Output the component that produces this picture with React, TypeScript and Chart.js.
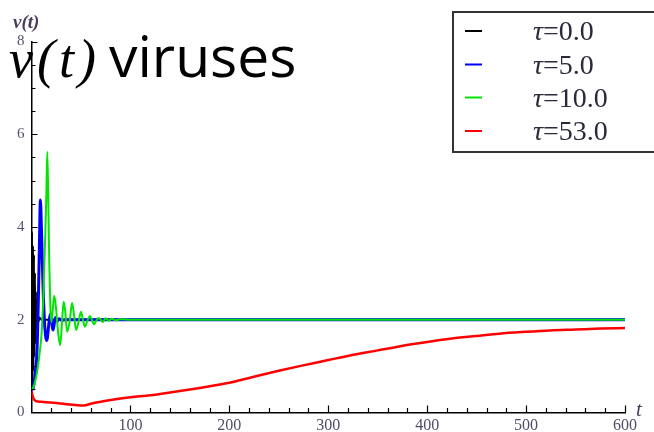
import React, { useEffect, useRef } from 'react';
import { Chart, registerables } from 'chart.js';

Chart.register(...registerables);

// ---- data ----
const TAUS = [0.0, 5.0, 10.0, 53.0];
const COLORS = ['rgb(0,0,0)', 'rgb(0,0,255)', 'rgb(0,230,0)', 'rgb(255,0,0)'];

const T_TAU0 = [0, 0.5, 1, 1.5, 2, 2.5, 3, 3.5, 4, 4.5, 5, 6, 7, 8, 10, 600];
const V_TAU0 = [0.5, 3.9, 0.6, 3.6, 0.9, 3.4, 1.2, 3.0, 1.5, 2.6, 1.8, 2.3, 1.95, 2.05, 2.0, 2.0];

const T_TAU5 = [0, 1, 2, 3, 4, 5, 6, 7, 8, 9, 10, 11, 12, 13, 14, 15, 16, 17, 18, 19, 20, 21, 22, 24, 26, 28, 30, 35, 600];
const V_TAU5 = [0.5, 0.5, 0.55, 0.7, 0.9, 1.1, 1.6, 2.5, 3.6, 4.58, 4.0, 3.2, 2.5, 2.0, 1.7, 1.55, 1.6, 1.8, 2.0, 2.12, 2.1, 1.85, 1.78, 2.05, 1.97, 2.02, 1.99, 2.0, 2.0];

const T_TAU10 = [0, 2, 4, 6, 8, 10, 12, 13, 14, 15, 16, 17, 18, 19, 20, 21, 23, 25, 27, 29, 31, 32.5, 34, 36, 38.5, 41, 43, 45, 47.5, 50, 52, 54, 56.5, 59, 61, 63, 65.5, 68, 70, 72, 75, 78, 81, 85, 90, 100, 600];
const V_TAU10 = [0.5, 0.55, 0.7, 0.92, 1.25, 1.65, 2.5, 3.2, 3.9, 4.7, 5.62, 4.5, 3.2, 2.3, 1.95, 2.1, 2.52, 2.2, 1.7, 1.45, 2.0, 2.39, 2.2, 1.74, 1.95, 2.36, 2.1, 1.78, 1.95, 2.17, 2.0, 1.85, 1.98, 2.08, 2.0, 1.9, 1.98, 2.04, 2.0, 1.95, 2.03, 1.98, 2.02, 1.99, 2.01, 2.0, 2.0];

const T_TAU53 = [0, 2, 4, 10, 22, 35, 45, 53, 60, 80, 100, 120, 140, 170, 200, 221, 250, 271, 300, 322, 350, 373, 400, 423, 450, 473, 500, 524, 550, 575, 600];
const V_TAU53 = [0.45, 0.3, 0.25, 0.23, 0.21, 0.18, 0.16, 0.15, 0.19, 0.27, 0.33, 0.37, 0.43, 0.53, 0.64, 0.75, 0.9, 1.0, 1.13, 1.23, 1.34, 1.43, 1.52, 1.59, 1.65, 1.7, 1.74, 1.77, 1.79, 1.81, 1.82];

const SERIES_T = [T_TAU0, T_TAU5, T_TAU10, T_TAU53];
const SERIES_V = [V_TAU0, V_TAU5, V_TAU10, V_TAU53];

const X_TICKS = [0, 100, 200, 300, 400, 500, 600];
const Y_TICKS = [0, 2, 4, 6, 8];
const X_MINOR_STEP = 20;
const Y_MINOR_STEP = 0.5;

const TITLE_MATH = 'v(t)';
const TITLE_WORD = 'viruses';
const Y_LABEL = 'v(t)';
const X_LABEL = 't';

const decorPlugin = {
  id: 'decor',
  afterDraw(chart: any) {
    const ctx = chart.ctx as CanvasRenderingContext2D;
    const xs = chart.scales.x;
    const ys = chart.scales.y;
    const x0 = xs.getPixelForValue(0);
    const y0 = ys.getPixelForValue(0);
    ctx.save();
    // inward tick marks
    ctx.strokeStyle = '#000';
    ctx.lineWidth = 1.2;
    ctx.beginPath();
    for (let v = X_MINOR_STEP; v <= xs.max + 1e-9; v += X_MINOR_STEP) {
      const px = Math.round(xs.getPixelForValue(v)) + 0.5;
      const len = X_TICKS.includes(v) ? 7 : 4.5;
      ctx.moveTo(px, y0);
      ctx.lineTo(px, y0 - len);
    }
    for (let v = Y_MINOR_STEP; v <= ys.max + 1e-9; v += Y_MINOR_STEP) {
      const py = Math.round(ys.getPixelForValue(v)) + 0.5;
      const len = Y_TICKS.includes(v) ? 6 : 4;
      ctx.moveTo(x0, py);
      ctx.lineTo(x0 + len, py);
    }
    ctx.stroke();

    // axis labels
    ctx.fillStyle = '#4b3b5b';
    ctx.textAlign = 'left';
    ctx.textBaseline = 'alphabetic';
    ctx.font = 'bold italic 19px "Liberation Serif"';
    ctx.fillText(Y_LABEL, 13, 28);
    ctx.font = 'italic 21px "Liberation Serif"';
    ctx.fillText(X_LABEL, 636, 416);

    // legend box
    ctx.lineWidth = 2;
    ctx.strokeStyle = '#333';
    ctx.beginPath();
    ctx.moveTo(700, 12);
    ctx.lineTo(453, 12);
    ctx.lineTo(453, 152);
    ctx.lineTo(700, 152);
    ctx.stroke();
    const rowBase = [40, 73.5, 106.5, 140];
    chart.data.datasets.forEach((ds: any, i: number) => {
      const by = rowBase[i];
      ctx.strokeStyle = ds.borderColor;
      ctx.lineWidth = 2;
      ctx.beginPath();
      ctx.moveTo(465, by - 9);
      ctx.lineTo(482, by - 9);
      ctx.stroke();
      const label: string = ds.label;
      ctx.fillStyle = '#2a2a3a';
      ctx.font = 'italic 28px "Liberation Serif"';
      const head = label.slice(0, 1);
      ctx.fillText(head, 533, by);
      const w = ctx.measureText(head).width;
      ctx.font = '28px "Liberation Serif"';
      ctx.fillText(label.slice(1), 533 + w, by);
    });

    // overlay title
    ctx.fillStyle = '#000';
    ctx.font = 'italic 54px "Liberation Serif"';
    (ctx as any).letterSpacing = '4px';
    ctx.fillText(TITLE_MATH, 9, 77);
    (ctx as any).letterSpacing = '0px';
    ctx.font = '57px "Open Sans"';
    ctx.fillText(TITLE_WORD, 109, 77);
    ctx.restore();
  },
};

export default function App() {
  const ref = useRef<HTMLCanvasElement | null>(null);
  useEffect(() => {
    document.body.style.margin = '0';
    const canvas = ref.current!;
    const datasets = TAUS.map((tau, i) => ({
      label: `τ=${tau.toFixed(1)}`,
      data: SERIES_T[i].map((t, j) => ({ x: t, y: SERIES_V[i][j] })),
      borderColor: COLORS[i],
      backgroundColor: COLORS[i],
      borderWidth: i === 1 ? 3 : i === 3 ? 2.5 : 2,
      pointRadius: 0,
      fill: false,
      cubicInterpolationMode: 'monotone' as const,
      order: 4 - i,
    }));
    const chart = new Chart(canvas, {
      type: 'line',
      data: { datasets },
      options: {
        animation: false,
        responsive: false,
        devicePixelRatio: 1,
        layout: { padding: { top: 41.5, right: 29, left: 0, bottom: 0 } },
        plugins: { legend: { display: false }, tooltip: { enabled: false }, title: { display: false } },
        scales: {
          x: {
            type: 'linear',
            min: 0,
            max: 600,
            grid: { display: false },
            border: { display: true, color: '#000', width: 1.5 },
            afterBuildTicks: (s: any) => { s.ticks = X_TICKS.map((v) => ({ value: v })); },
            afterFit: (s: any) => { s.height = 19.5; },
            ticks: {
              autoSkip: false,
              maxRotation: 0,
              padding: -4,
              color: '#4d4d66',
              font: { family: '"Liberation Serif"', size: 16 },
              callback: (v: any) => (v === 0 ? '' : String(v)),
            },
          },
          y: {
            type: 'linear',
            min: 0,
            max: 8,
            grid: { display: false },
            border: { display: true, color: '#000', width: 1.5 },
            afterBuildTicks: (s: any) => { s.ticks = Y_TICKS.map((v) => ({ value: v })); },
            afterFit: (s: any) => { s.width = 31.5; },
            ticks: {
              padding: -1,
              color: '#5a5070',
              font: { family: '"Liberation Serif"', size: 15 },
            },
          },
        },
      },
      plugins: [decorPlugin],
    });
    return () => chart.destroy();
  }, []);
  return (
    <div style={{ position: 'fixed', left: 0, top: 0, width: 654, height: 432, background: '#fff' }}>
      <canvas ref={ref} width={654} height={432} style={{ width: 654, height: 432, display: 'block' }} />
    </div>
  );
}
